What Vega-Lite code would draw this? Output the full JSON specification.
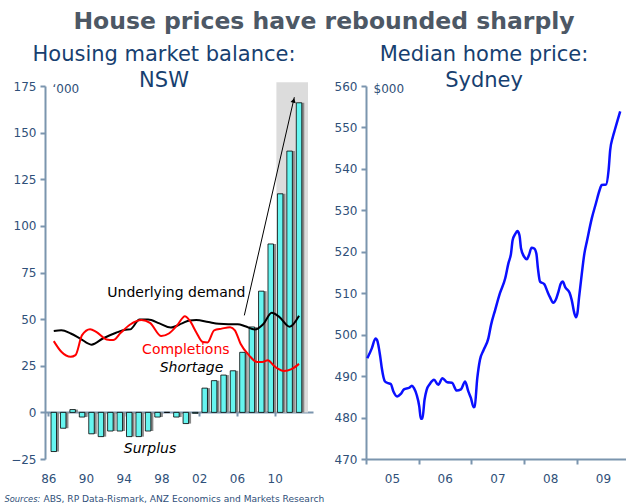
{
  "$schema": "https://vega.github.io/schema/vega-lite/v6.json",
  "background": "white",
  "padding": {"left": 4, "top": 9, "right": 0, "bottom": 0},
  "bounds": "flush",
  "spacing": 53,
  "title": {"text": "House prices have rebounded sharply", "fontSize": 23.5, "fontWeight": "bold", "color": "#4d5865", "anchor": "middle", "offset": 11, "dx": 9, "font": "DejaVu Sans"},
  "config": {
    "font": "DejaVu Sans",
    "view": {"stroke": null},
    "axis": {"grid": false, "labelFont": "DejaVu Sans", "labelFontSize": 12, "labelColor": "#2f5079", "domainColor": "#7b95ae", "tickColor": "#7b95ae", "domainWidth": 2, "tickWidth": 2, "tickSize": 5, "titleFontWeight": "normal", "titleColor": "#2f5079", "titleFontSize": 12, "titleFont": "DejaVu Sans"}
  },
  "datasets": {
    "one": [{}],
    "bars": [
      {"year": 1986, "value": -21}, {"year": 1987, "value": -8.5}, {"year": 1988, "value": 1.5}, {"year": 1989, "value": -2.5},
      {"year": 1990, "value": -11.5}, {"year": 1991, "value": -13}, {"year": 1992, "value": -10}, {"year": 1993, "value": -10},
      {"year": 1994, "value": -13}, {"year": 1995, "value": -13}, {"year": 1996, "value": -10}, {"year": 1997, "value": -2.5},
      {"year": 1998, "value": 0}, {"year": 1999, "value": -2.5}, {"year": 2000, "value": -6}, {"year": 2001, "value": -0.5},
      {"year": 2002, "value": 13}, {"year": 2003, "value": 17}, {"year": 2004, "value": 20}, {"year": 2005, "value": 22.3},
      {"year": 2006, "value": 32.2}, {"year": 2007, "value": 45.8}, {"year": 2008, "value": 65}, {"year": 2009, "value": 90.3},
      {"year": 2010, "value": 117.2}, {"year": 2011, "value": 140.1}, {"year": 2012, "value": 166}
    ],
    "demand": [
      {"year": 1986.0, "value": 43.6}, {"year": 1986.8, "value": 44.0}, {"year": 1987.8, "value": 42.3}, {"year": 1988.8, "value": 39.6},
      {"year": 1990.0, "value": 36.3}, {"year": 1991.2, "value": 39.6}, {"year": 1992.6, "value": 42.7}, {"year": 1993.6, "value": 44.3},
      {"year": 1994.1, "value": 44.5}, {"year": 1995.1, "value": 49.8}, {"year": 1996.0, "value": 49.8}, {"year": 1997.2, "value": 47.7},
      {"year": 1998.4, "value": 45.5}, {"year": 1999.6, "value": 47.7}, {"year": 2000.4, "value": 49.3}, {"year": 2001.1, "value": 49.5},
      {"year": 2002.4, "value": 48.4}, {"year": 2003.5, "value": 47.5}, {"year": 2004.5, "value": 47.3}, {"year": 2005.5, "value": 47.3},
      {"year": 2006.3, "value": 46.2}, {"year": 2007.3, "value": 44.5}, {"year": 2008.2, "value": 47.3}, {"year": 2009.1, "value": 53.4},
      {"year": 2009.9, "value": 51.2}, {"year": 2011.0, "value": 45.9}, {"year": 2012.0, "value": 51.8}
    ],
    "completions": [
      {"year": 1986.0, "value": 38.2}, {"year": 1986.8, "value": 32.5}, {"year": 1987.8, "value": 29.8}, {"year": 1988.3, "value": 30.7},
      {"year": 1989.0, "value": 41.4}, {"year": 1989.85, "value": 44.6}, {"year": 1990.5, "value": 43.2}, {"year": 1991.6, "value": 39.1},
      {"year": 1992.3, "value": 38.8}, {"year": 1993.1, "value": 42.7}, {"year": 1994.1, "value": 47.1}, {"year": 1995.3, "value": 49.5},
      {"year": 1996.2, "value": 48.0}, {"year": 1997.4, "value": 40.9}, {"year": 1998.2, "value": 42.3}, {"year": 1999.1, "value": 46.8},
      {"year": 1999.9, "value": 51.6}, {"year": 2000.4, "value": 49.3}, {"year": 2001.1, "value": 43.0}, {"year": 2001.8, "value": 37.7},
      {"year": 2002.3, "value": 37.5}, {"year": 2003.0, "value": 44.0}, {"year": 2003.8, "value": 44.9}, {"year": 2004.7, "value": 45.7},
      {"year": 2005.2, "value": 44.0}, {"year": 2005.8, "value": 36.8}, {"year": 2006.7, "value": 30.6}, {"year": 2007.55, "value": 27.0},
      {"year": 2008.1, "value": 27.0}, {"year": 2008.7, "value": 28.0}, {"year": 2009.3, "value": 25.2}, {"year": 2009.8, "value": 23.3},
      {"year": 2010.4, "value": 22.2}, {"year": 2011.2, "value": 23.2}, {"year": 2012.0, "value": 26.0}
    ],
    "prices": [
      {"t": 2005.025, "price": 494.3}, {"t": 2005.11, "price": 496.7}, {"t": 2005.18, "price": 499.1}, {"t": 2005.21, "price": 498.7},
      {"t": 2005.27, "price": 494.7}, {"t": 2005.30, "price": 491.9}, {"t": 2005.36, "price": 488.7}, {"t": 2005.42, "price": 488.3},
      {"t": 2005.47, "price": 488.1}, {"t": 2005.52, "price": 486.3}, {"t": 2005.59, "price": 485.1}, {"t": 2005.66, "price": 485.7},
      {"t": 2005.72, "price": 486.8}, {"t": 2005.82, "price": 487.2}, {"t": 2005.87, "price": 487.7}, {"t": 2005.91, "price": 487.1},
      {"t": 2005.96, "price": 485.5}, {"t": 2006.01, "price": 482.7}, {"t": 2006.04, "price": 479.7}, {"t": 2006.07, "price": 479.8},
      {"t": 2006.11, "price": 484.3}, {"t": 2006.15, "price": 486.7}, {"t": 2006.21, "price": 488.1}, {"t": 2006.29, "price": 489.1},
      {"t": 2006.37, "price": 487.9}, {"t": 2006.45, "price": 489.5}, {"t": 2006.54, "price": 488.5}, {"t": 2006.63, "price": 488.4},
      {"t": 2006.72, "price": 486.5}, {"t": 2006.80, "price": 486.8}, {"t": 2006.88, "price": 488.7}, {"t": 2006.94, "price": 486.3},
      {"t": 2006.99, "price": 484.7}, {"t": 2007.04, "price": 482.5}, {"t": 2007.06, "price": 482.6}, {"t": 2007.11, "price": 489.5},
      {"t": 2007.16, "price": 493.9}, {"t": 2007.23, "price": 496.3}, {"t": 2007.32, "price": 499.1}, {"t": 2007.37, "price": 502.3},
      {"t": 2007.45, "price": 506.0}, {"t": 2007.54, "price": 510.0}, {"t": 2007.64, "price": 513.6}, {"t": 2007.70, "price": 517.2},
      {"t": 2007.75, "price": 519.6}, {"t": 2007.78, "price": 522.8}, {"t": 2007.83, "price": 524.3}, {"t": 2007.87, "price": 525.0},
      {"t": 2007.91, "price": 524.0}, {"t": 2007.94, "price": 520.8}, {"t": 2008.00, "price": 518.8}, {"t": 2008.05, "price": 518.2},
      {"t": 2008.09, "price": 519.2}, {"t": 2008.14, "price": 521.0}, {"t": 2008.19, "price": 520.8}, {"t": 2008.23, "price": 519.6},
      {"t": 2008.26, "price": 516.0}, {"t": 2008.30, "price": 512.8}, {"t": 2008.38, "price": 512.2}, {"t": 2008.44, "price": 510.4},
      {"t": 2008.49, "price": 509.0}, {"t": 2008.55, "price": 507.7}, {"t": 2008.61, "price": 508.8}, {"t": 2008.65, "price": 510.4},
      {"t": 2008.69, "price": 512.2}, {"t": 2008.73, "price": 512.8}, {"t": 2008.78, "price": 511.4}, {"t": 2008.86, "price": 510.1},
      {"t": 2008.90, "price": 508.4}, {"t": 2008.95, "price": 505.2}, {"t": 2008.98, "price": 504.2}, {"t": 2009.01, "price": 505.3},
      {"t": 2009.04, "price": 509.0}, {"t": 2009.09, "price": 514.5}, {"t": 2009.14, "price": 519.5}, {"t": 2009.19, "price": 522.6},
      {"t": 2009.28, "price": 528.0}, {"t": 2009.36, "price": 531.7}, {"t": 2009.43, "price": 534.9}, {"t": 2009.47, "price": 536.1},
      {"t": 2009.55, "price": 536.2}, {"t": 2009.60, "price": 539.7}, {"t": 2009.63, "price": 544.5}, {"t": 2009.68, "price": 547.7},
      {"t": 2009.72, "price": 549.5}, {"t": 2009.77, "price": 551.7}, {"t": 2009.82, "price": 553.9}
    ]
  },
  "hconcat": [
    {
      "width": 268,
      "height": 373,
      "title": {"text": ["Housing market balance:", "NSW"], "fontSize": 21, "fontWeight": "normal", "color": "#173f70", "lineHeight": 26, "frame": "group", "anchor": "middle", "offset": -11, "dx": -15, "font": "DejaVu Sans"},
      "layer": [
        {
          "data": {"name": "one"},
          "mark": {"type": "rect", "color": "#dcdcdc"},
          "encoding": {
            "x": {"datum": 2009.6, "type": "quantitative"},
            "x2": {"datum": 2012.95},
            "y": {"datum": 0, "type": "quantitative"},
            "y2": {"datum": 177}
          }
        },
        {
          "data": {"name": "bars"},
          "mark": {"type": "bar", "width": 5.5, "xOffset": 2.5, "color": "#8a8a8a"},
          "encoding": {
            "x": {"field": "year", "type": "quantitative",
                  "scale": {"domain": [1985.6, 2012.95], "nice": false, "zero": false},
                  "axis": {"values": [1986, 1990, 1994, 1998, 2002, 2006, 2010], "labelExpr": "slice(toString(datum.value), 2)", "offset": -47, "tickSize": 4, "tickOffset": -5.5, "labelOffset": 0, "labelPadding": 57, "labelFlush": false, "title": "Sources:", "titleFontStyle": "italic", "titleFontSize": 8.3, "titleX": -41, "titleY": 89, "titleAlign": "left", "titleBaseline": "alphabetic", "titleAnchor": null}},
            "y": {"field": "value", "type": "quantitative",
                  "scale": {"domain": [-25, 175], "nice": false, "zero": false},
                  "axis": {"values": [-25, 0, 25, 50, 75, 100, 125, 150, 175], "labelPadding": 4, "title": "‘000", "titleAngle": 0, "titleX": 7, "titleY": 2, "titleAlign": "left", "titleBaseline": "middle", "titleAnchor": null}}
          }
        },
        {
          "data": {"name": "bars"},
          "mark": {"type": "bar", "width": 5.5, "fill": "#66f5f0", "stroke": "#000000", "strokeWidth": 0.8},
          "encoding": {
            "x": {"field": "year", "type": "quantitative"},
            "y": {"field": "value", "type": "quantitative"}
          }
        },
        {
          "data": {"name": "demand"},
          "mark": {"type": "line", "color": "#000000", "strokeWidth": 2, "interpolate": "monotone"},
          "encoding": {
            "x": {"field": "year", "type": "quantitative"},
            "y": {"field": "value", "type": "quantitative"}
          }
        },
        {
          "data": {"name": "completions"},
          "mark": {"type": "line", "color": "#ff0000", "strokeWidth": 2, "interpolate": "monotone"},
          "encoding": {
            "x": {"field": "year", "type": "quantitative"},
            "y": {"field": "value", "type": "quantitative"}
          }
        },
        {
          "data": {"name": "one"},
          "mark": {"type": "rule", "color": "#000000", "strokeWidth": 1},
          "encoding": {
            "x": {"datum": 2006.2, "type": "quantitative"},
            "y": {"datum": 52, "type": "quantitative"},
            "x2": {"datum": 2011.5},
            "y2": {"datum": 169}
          }
        },
        {
          "data": {"name": "one"},
          "mark": {"type": "point", "shape": "triangle-up", "filled": true, "color": "#000000", "size": 28, "angle": 13.5, "opacity": 1},
          "encoding": {
            "x": {"datum": 2011.43, "type": "quantitative"},
            "y": {"datum": 167.3, "type": "quantitative"}
          }
        },
        {
          "data": {"name": "one"},
          "mark": {"type": "text", "text": "Underlying demand", "fontSize": 14, "color": "#000000"},
          "encoding": {"x": {"datum": 1999.0, "type": "quantitative"}, "y": {"datum": 63.8, "type": "quantitative"}}
        },
        {
          "data": {"name": "one"},
          "mark": {"type": "text", "text": "Completions", "fontSize": 14, "color": "#ff0000"},
          "encoding": {"x": {"datum": 2000.0, "type": "quantitative"}, "y": {"datum": 33.2, "type": "quantitative"}}
        },
        {
          "data": {"name": "one"},
          "mark": {"type": "text", "text": "Shortage", "fontSize": 14, "fontStyle": "italic", "color": "#000000"},
          "encoding": {"x": {"datum": 2000.6, "type": "quantitative"}, "y": {"datum": 23.6, "type": "quantitative"}}
        },
        {
          "data": {"name": "one"},
          "mark": {"type": "text", "text": "Surplus", "fontSize": 14, "fontStyle": "italic", "color": "#000000"},
          "encoding": {"x": {"datum": 1996.2, "type": "quantitative"}, "y": {"datum": -19.8, "type": "quantitative"}}
        }
      ]
    },
    {
      "width": 260,
      "height": 373,
      "title": {"text": ["Median home price:", "Sydney"], "fontSize": 21, "fontWeight": "normal", "color": "#173f70", "lineHeight": 26, "frame": "group", "anchor": "middle", "offset": -11, "dx": -12, "font": "DejaVu Sans"},
      "data": {"name": "prices"},
      "mark": {"type": "line", "color": "#0a10ff", "strokeWidth": 2.5, "interpolate": "monotone"},
      "encoding": {
        "x": {"field": "t", "type": "quantitative",
              "scale": {"domain": [2005, 2009.93], "nice": false, "zero": false},
              "axis": {"values": [2005, 2006, 2007, 2008, 2009], "labelExpr": "slice(toString(datum.value), 2)", "labelOffset": 26, "labelPadding": 9, "labelFlush": false, "title": "ABS, RP Data-Rismark, ANZ Economics and Markets Research", "titleFontSize": 9.1, "titleX": -323, "titleY": 42, "titleAlign": "left", "titleBaseline": "alphabetic", "titleAnchor": null}},
        "y": {"field": "price", "type": "quantitative",
              "scale": {"domain": [470, 560], "nice": false, "zero": false},
              "axis": {"values": [470, 480, 490, 500, 510, 520, 530, 540, 550, 560], "labelPadding": 4, "title": "$000", "titleAngle": 0, "titleX": 7, "titleY": 2, "titleAlign": "left", "titleBaseline": "middle", "titleAnchor": null}}
      }
    }
  ]
}
